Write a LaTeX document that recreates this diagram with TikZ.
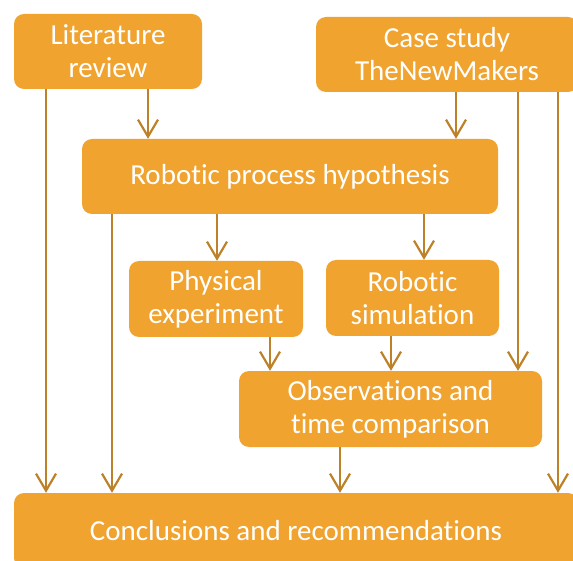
\documentclass[tikz,border=0pt]{standalone}
\usepackage{fontspec}
\setmainfont{Carlito}[Ligatures=NoCommon]
\usetikzlibrary{arrows.meta}

\definecolor{boxfill}{HTML}{F0A32F}
\definecolor{linecol}{HTML}{BD8229}

\begin{document}
\begin{tikzpicture}[x=1pt,y=-1pt,
    stage/.style={anchor=center,rectangle,fill=boxfill,rounded corners=10pt,inner sep=0pt,
      align=center,text=white,font=\fontsize{29}{33}\selectfont},
    arr/.style={draw=linecol,line width=2.2pt,-{Straight Barb[length=17pt,width=20pt]}}]
  \useasboundingbox (0,0) rectangle (573,561);
  \clip (0,0) rectangle (573,561);

  \node [stage,minimum width=188pt,minimum height=75pt] (lit) at (108,51.5) {Literature\\review};
  \node [stage,minimum width=262pt,minimum height=75pt] (case) at (447,54.5) {Case study\\TheNewMakers};
  \node [stage,minimum width=416pt,minimum height=75pt] (hyp) at (290,176.5) {Robotic process hypothesis};
  \node [stage,minimum width=174pt,minimum height=76pt] (phys) at (216,299) {Physical\\experiment};
  \node [stage,minimum width=173pt,minimum height=76pt] (sim) at (412.5,298) {Robotic\\simulation};
  \node [stage,minimum width=303pt,minimum height=76pt] (obs) at (390.5,409) {Observations and\\time comparison};
  \node [stage,minimum width=564pt,minimum height=75pt] (conc) at (296,530.5) {Conclusions and recommendations};

  \coordinate (x1) at (46,0);
  \coordinate (x2) at (112,0);
  \coordinate (x3) at (148,0);
  \coordinate (x4) at (217,0);
  \coordinate (x5) at (270,0);
  \coordinate (x6) at (340,0);
  \coordinate (x7) at (391,0);
  \coordinate (x8) at (424,0);
  \coordinate (x9) at (456,0);
  \coordinate (x10) at (518,0);
  \coordinate (x11) at (558,0);

  \draw [arr] (lit.south -| x1) -- (conc.north -| x1);
  \draw [arr] (lit.south -| x3) -- (hyp.north -| x3);
  \draw [arr] (case.south -| x9) -- (hyp.north -| x9);
  \draw [arr] (case.south -| x10) -- (obs.north -| x10);
  \draw [arr] (case.south -| x11) -- (conc.north -| x11);
  \draw [arr] (hyp.south -| x2) -- (conc.north -| x2);
  \draw [arr] (hyp.south -| x4) -- (phys.north -| x4);
  \draw [arr] (hyp.south -| x8) -- (sim.north -| x8);
  \draw [arr] (phys.south -| x5) -- (obs.north -| x5);
  \draw [arr] (sim.south -| x7) -- (obs.north -| x7);
  \draw [arr] (obs.south -| x6) -- (conc.north -| x6);
\end{tikzpicture}
\end{document}
